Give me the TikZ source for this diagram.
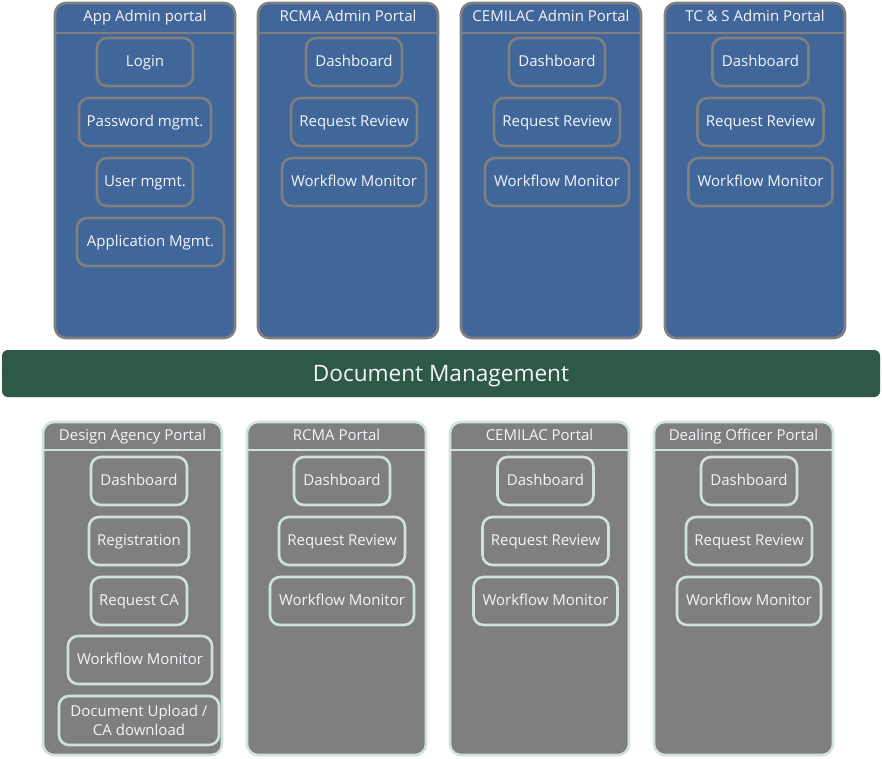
\documentclass[tikz,border=0pt]{standalone}
\usepackage{fontspec}
\setmainfont{Open Sans}
\usepackage{tikz}
\usetikzlibrary{positioning}
\usetikzlibrary{calc}

\definecolor{adminblue}{HTML}{41669A}
\definecolor{admingray}{HTML}{7F7F7F}
\definecolor{userfill}{HTML}{7F7F7F}
\definecolor{userline}{HTML}{D0E3DA}
\definecolor{docgreen}{HTML}{2F5947}
\definecolor{labelwhite}{HTML}{F2F6FA}

\begin{document}
\begin{tikzpicture}
	[
	x=1pt, y=-1pt,
	adminpanel/.style = {draw=admingray, fill=adminblue, line width=2.6pt, rounded corners=11pt},
	userpanel/.style = {draw=userline, fill=userfill, line width=2.6pt, rounded corners=11pt},
	title/.style = {text=labelwhite, font=\fontsize{15}{19}\selectfont, inner sep=0pt,
		text height=10pt, text depth=0.4pt},
	item/.style = {rounded corners=10pt, line width=2.6pt, minimum height=48pt, text=labelwhite,
		font=\fontsize{15}{19}\selectfont, inner sep=0pt, align=center,
		text height=10pt, text depth=0.4pt},
	adminitem/.style = {item, draw=admingray},
	useritem/.style = {item, draw=userline}
	]

	\useasboundingbox (0,0) rectangle (882,759);

	% admin portals
	\foreach \l/\r/\n/\t in {55/235/a1/App Admin portal, 258/438/a2/RCMA Admin Portal,
		461/641/a3/CEMILAC Admin Portal, 665/845/a4/TC \& S Admin Portal}
	{
		\draw[adminpanel] (\l,3) rectangle (\r,338);
		\draw[admingray, line width=2.6pt] (\l,33) -- (\r,33);
		\node[title] (\n) at ({(\l+\r)/2},17) {\t};
	}

	\node[adminitem, minimum width=96pt] (login) at (145,62) {Login};
	\node[adminitem, minimum width=132pt] (passwd) at (145,122) {Password mgmt.};
	\node[adminitem, minimum width=96pt] (usermgmt) at (145,182) {User mgmt.};
	\node[adminitem, minimum width=147pt] (appmgmt) at (150.5,242) {Application Mgmt.};

	\foreach \c/\n in {354/a2, 557/a3, 760.5/a4}
	{
		\node[adminitem, minimum width=96pt] (\n dash) at (\c,62) {Dashboard};
		\node[adminitem, minimum width=126pt] (\n review) at (\c,122) {Request Review};
		\node[adminitem, minimum width=144pt] (\n flow) at (\c,182) {Workflow Monitor};
	}

	% document management
	\draw[fill=docgreen, draw=black!80, dotted, thin, rounded corners=6pt] (2,350) rectangle (880,397);
	\node[text=labelwhite, font=\fontsize{22.6}{26}\selectfont, text height=15.4pt, text depth=0.4pt]
		(docmgmt) at (441,373.5) {Document Management};

	% user portals
	\foreach \l/\r/\n/\t in {43/222/u1/Design Agency Portal, 247/426/u2/RCMA Portal,
		450/629/u3/CEMILAC Portal, 654/833/u4/Dealing Officer Portal}
	{
		\draw[userpanel] (\l,422) rectangle (\r,755);
		\draw[userline, line width=2.6pt] (\l,450) -- (\r,450);
		\node[title] (\n) at ({(\l+\r)/2},436) {\t};
	}

	\node[useritem, minimum width=96pt] (dadash) at (139,481) {Dashboard};
	\node[useritem, minimum width=100pt] (dareg) at (139,541) {Registration};
	\node[useritem, minimum width=96pt] (dareq) at (139,601) {Request CA};
	\node[useritem, minimum width=144pt] (daflow) at (140,660) {Workflow Monitor};
	\node[useritem, minimum width=160pt, minimum height=49pt, text height={}, text depth={}]
		(daupload) at (139,720.5) {Document Upload /\\CA download};

	\foreach \c/\n in {342/u2, 545.5/u3, 749/u4}
	{
		\node[useritem, minimum width=96pt] (\n dash) at (\c,481) {Dashboard};
		\node[useritem, minimum width=126pt] (\n review) at (\c,541) {Request Review};
		\node[useritem, minimum width=144pt] (\n flow) at (\c,601) {Workflow Monitor};
	}

\end{tikzpicture}
\end{document}
